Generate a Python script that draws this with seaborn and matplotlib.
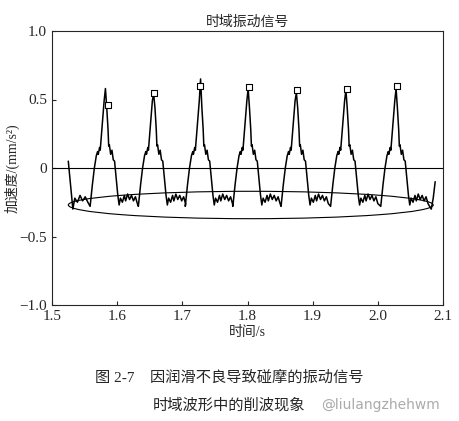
import numpy as np
import pandas as pd
import seaborn as sns
import matplotlib.pyplot as plt
from matplotlib.patches import Ellipse

# one cycle of the waveform (offset from peak [s], value)
cycle_dt = [-0.0235, -0.020, -0.017, -0.014, -0.012, -0.011, -0.009, -0.008, -0.006, -0.004, -0.002, 0.0,
            0.002, 0.004, 0.005, 0.006, 0.008, 0.010, 0.012, 0.014, 0.016, 0.019, 0.021, 0.023, 0.026,
            0.029, 0.031, 0.034, 0.037, 0.040, 0.043, 0.046, 0.049]
cycle_y = [-0.28, -0.12, 0.0, 0.09, 0.12, 0.10, 0.15, 0.13, 0.25, 0.36, 0.49, None,
           0.44, 0.28, 0.16, 0.17, 0.10, 0.13, 0.06, 0.05, -0.05, -0.20, -0.27, -0.22, -0.25,
           -0.20, -0.24, -0.19, -0.23, -0.20, -0.24, -0.21, -0.26]
peak_t = [1.582, 1.656, 1.728, 1.801, 1.875, 1.951, 2.028]
peak_y = [0.58, 0.54, 0.65, 0.58, 0.55, 0.57, 0.58]
start_t = [1.525, 1.532, 1.535, 1.539, 1.543, 1.547, 1.551, 1.555]
start_y = [0.05, -0.30, -0.22, -0.25, -0.20, -0.24, -0.21, -0.25]
end_t = [2.082, 2.085, 2.088]
end_y = [-0.30, -0.22, -0.10]

sq_t = [1.586, 1.656, 1.727, 1.803, 1.876, 1.953, 2.030]
sq_y = [0.46, 0.55, 0.60, 0.59, 0.57, 0.58, 0.60]

t, y = list(start_t), list(start_y)
for pt, pv in zip(peak_t, peak_y):
    for dt, v in zip(cycle_dt, cycle_y):
        t.append(pt + dt)
        y.append(pv if v is None else v)
t += end_t
y += end_y
df = pd.DataFrame({'t': t, 'y': y})

sns.set_style('ticks')
plt.rcParams['font.family'] = ['Liberation Serif', 'Noto Sans CJK SC']
fig = plt.figure(figsize=(4.59, 4.21), dpi=100)
ax = fig.add_axes([52/459, 1-305/421, 391/459, 274/421])
sns.lineplot(data=df, x='t', y='y', sort=False, color='black', lw=1.1, ax=ax)
sns.scatterplot(x=sq_t, y=sq_y, marker='s', s=22, facecolor='white', edgecolor='black', lw=0.8, ax=ax, zorder=3)
ax.axhline(0, color='black', lw=0.8)
ax.add_patch(Ellipse((1.805, -0.27), 0.56, 0.2, fill=False, edgecolor='black', lw=0.8))
ax.set_xlim(1.5, 2.1)
ax.set_ylim(-1.0, 1.0)
ax.set_xticks([1.5, 1.6, 1.7, 1.8, 1.9, 2.0, 2.1])
ax.set_yticks([-1.0, -0.5, 0, 0.5, 1.0])
ax.set_yticklabels(['−1.0', '−0.5', '0', '0.5', '1.0'])
ax.tick_params(labelsize=11, direction='in', length=3)
ax.set_xlabel('时间/s', fontsize=10, labelpad=2)
ax.set_ylabel('加速度/(mm/s²)', fontsize=10, labelpad=0)
ax.set_title('时域振动信号', fontsize=10, pad=4)
for s in ax.spines.values():
    s.set_linewidth(0.8)
fig.text(0.5, 1-378/421, '图 2-7    因润滑不良导致碰摩的振动信号', ha='center', va='center', fontsize=11)
fig.text(0.5, 1-405/421, '时域波形中的削波现象', ha='center', va='center', fontsize=11)
fig.text(0.83, 1-405/421, '@liulangzhehwm', ha='center', va='center', fontsize=10, color='#aaaaaa',
         family='DejaVu Sans')
fig.savefig('out.png', dpi=100)
